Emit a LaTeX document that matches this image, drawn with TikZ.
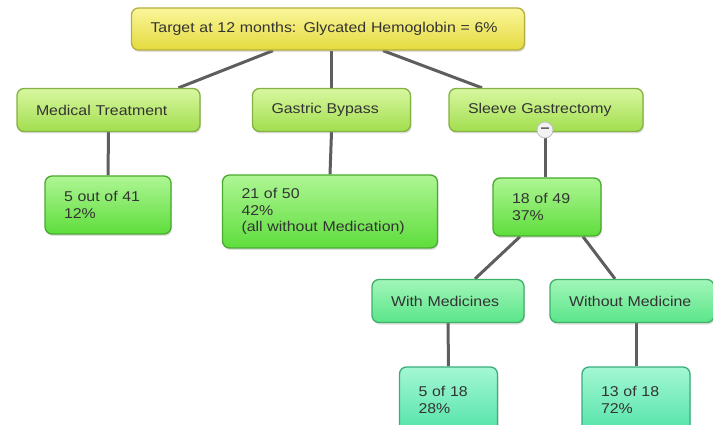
\documentclass[tikz,border=0pt]{standalone}
\usepackage{fontspec}
\setmainfont{Liberation Sans}[FakeStretch=1.12]
\usetikzlibrary{shadows,backgrounds}
\definecolor{ylwtop}{HTML}{FAF69A}
\definecolor{ylwbot}{HTML}{E4DA3E}
\definecolor{ylwline}{HTML}{B6AE3C}
\definecolor{limetop}{HTML}{D8F7A0}
\definecolor{limebot}{HTML}{A2DE4E}
\definecolor{limeline}{HTML}{84B044}
\definecolor{grntop}{HTML}{AEF694}
\definecolor{grnbot}{HTML}{5EDD3C}
\definecolor{grnline}{HTML}{4AAA30}
\definecolor{mnttop}{HTML}{A2F6B8}
\definecolor{mntbot}{HTML}{5AE58A}
\definecolor{mntline}{HTML}{3EB06A}
\definecolor{aqutop}{HTML}{A4F7D4}
\definecolor{aqubot}{HTML}{52E3A8}
\definecolor{aquline}{HTML}{38AE7E}
\definecolor{linkgray}{HTML}{5E5E5E}
\tikzset{
  box/.style={rounded corners=7pt, line width=1.3pt, align=left,
    inner xsep=19pt, inner ysep=0pt,
    font=\fontsize{14.2}{16.5}\selectfont, text=black!80,
    drop shadow={opacity=0.25, shadow xshift=1pt, shadow yshift=-2pt}},
  goal/.style={box, draw=ylwline, top color=ylwtop, bottom color=ylwbot},
  arm/.style={box, draw=limeline, top color=limetop, bottom color=limebot},
  result/.style={box, draw=grnline, top color=grntop, bottom color=grnbot},
  sub/.style={box, draw=mntline, top color=mnttop, bottom color=mntbot},
  share/.style={box, draw=aquline, top color=aqutop, bottom color=aqubot},
  link/.style={draw=linkgray, line width=3pt},
  toggle/.style={circle, draw=gray!50, line width=0.8pt, fill=gray!10,
    minimum size=16pt, inner sep=0pt, font=\Large\bfseries, text=black!70}
}
\begin{document}
\begin{tikzpicture}[x=1pt, y=-1pt]
\useasboundingbox (0,0) rectangle (713,425);
\clip (0,0) rectangle (713,425);

\node[goal, text width=355pt, minimum height=42pt] (target) at (328,29)
  {Target at 12 months: Glycated Hemoglobin = 6\%};

\node[arm, text width=145pt, minimum height=43pt] (medical) at (108.5,110) {Medical Treatment};
\node[arm, text width=120pt, minimum height=43pt] (bypass) at (331.5,110) {Gastric Bypass};
\node[arm, text width=156pt, minimum height=43pt] (sleeve) at (546,110) {Sleeve Gastrectomy};
\node[toggle] (fold) at (545,130) {–};

\node[result, text width=88pt, minimum height=58pt] (medres) at (108,205) {5 out of 41\\12\%};
\node[result, text width=177pt, minimum height=73pt] (bypres) at (330,211.5)
  {21 of 50\\42\%\\(all without Medication)};
\node[result, text width=70pt, minimum height=58pt] (slvres) at (547,207) {18 of 49\\37\%};

\node[sub, text width=114pt, minimum height=43pt] (withmed) at (448,301) {With Medicines};
\node[sub, text width=126pt, minimum height=43pt] (without) at (632,301) {Without Medicine};

\node[share, text width=60pt, minimum height=66pt] (withres) at (448.5,400) {5 of 18\\28\%};
\node[share, text width=70pt, minimum height=66pt] (withoutres) at (636,400) {13 of 18\\72\%};

\begin{scope}[on background layer]
  \draw[link] ([xshift=-55pt]target.south) -- ([xshift=70pt]medical.north);
  \draw[link] (bypass.north |- target.south) -- (bypass.north);
  \draw[link] ([xshift=55pt]target.south) -- ([xshift=-64pt]sleeve.north);
  \draw[link] (medical.south) -- (medres.north);
  \draw[link] (bypass.south) -- (bypres.north);
  \draw[link] (fold) -- (fold |- slvres.north);
  \draw[link] ([xshift=-27pt]slvres.south) -- ([xshift=27pt]withmed.north);
  \draw[link] ([xshift=36pt]slvres.south) -- ([xshift=-17pt]without.north);
  \draw[link] (withmed.south) -- (withres.north);
  \draw[link] (withoutres.north |- without.south) -- (withoutres.north);
\end{scope}
\end{tikzpicture}
\end{document}
